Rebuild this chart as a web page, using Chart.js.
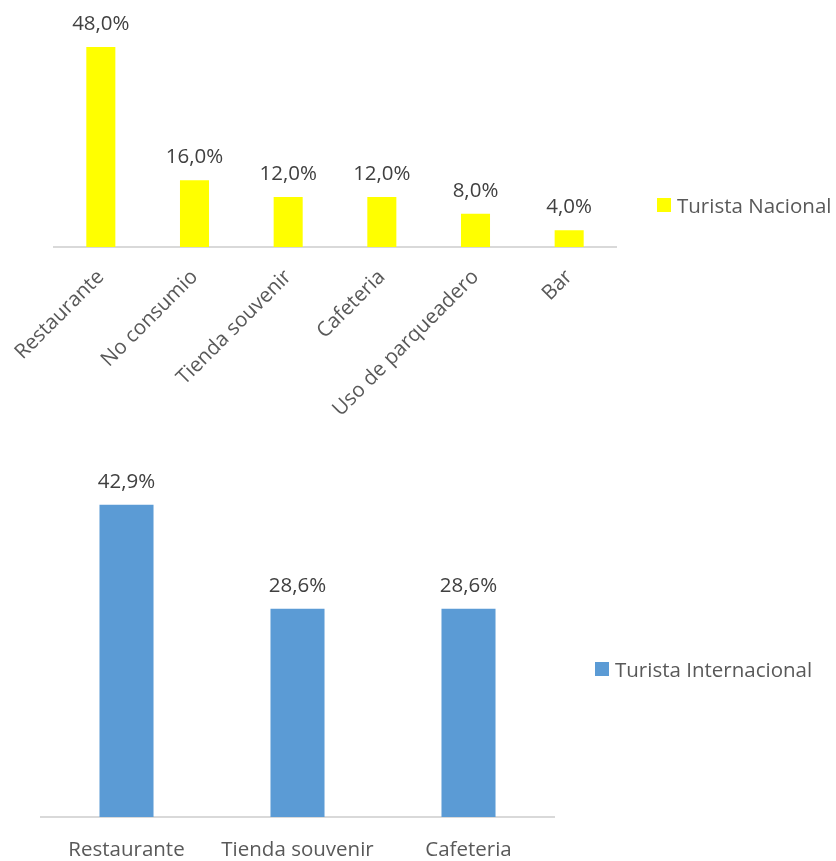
<!DOCTYPE html>
<html>
<head>
<meta charset="utf-8">
<script src="https://cdn.jsdelivr.net/npm/chart.js@4/dist/chart.umd.min.js"></script>
<style>
  html, body { margin: 0; padding: 0; background: #ffffff; }
  body { width: 836px; height: 861px; position: relative; overflow: hidden; font-family: "Open Sans", sans-serif; }
  .box { position: absolute; }
  .legend { position: absolute; display: flex; align-items: center; color: #595959; font-size: 20.5px; white-space: nowrap; }
  .legend span.sw { display: inline-block; width: 14px; height: 14px; margin-right: 6px; }
</style>
</head>
<body>
<div class="box" style="left:0;top:0;width:836px;height:430px;"><canvas id="nacional"></canvas></div>
<div class="box" style="left:0;top:430px;width:836px;height:431px;"><canvas id="internacional"></canvas></div>
<div class="legend" style="left:657px;top:191px;height:28px;"><span class="sw" style="background:#FFFF00"></span>Turista Nacional</div>
<div class="legend" style="left:595px;top:655px;height:28px;"><span class="sw" style="background:#5B9BD5"></span>Turista Internacional</div>
<script>
// Consumo del turista nacional
const nacionalCategorias = ['Restaurante', 'No consumio', 'Tienda souvenir', 'Cafeteria', 'Uso de parqueadero', 'Bar'];
const nacionalValores = [48.0, 16.0, 12.0, 12.0, 8.0, 4.0];

// Consumo del turista internacional
const internacionalCategorias = ['Restaurante', 'Tienda souvenir', 'Cafeteria'];
const internacionalValores = [42.9, 28.6, 28.6];

const FONT = '"Open Sans", sans-serif';

// Writes each bar's value (e.g. "48,0%") above it
const etiquetasValor = {
  id: 'etiquetasValor',
  afterDatasetsDraw(chart) {
    const ctx = chart.ctx;
    ctx.save();
    ctx.font = '20.5px ' + FONT;
    ctx.fillStyle = '#404040';
    ctx.textAlign = 'center';
    ctx.textBaseline = 'alphabetic';
    chart.data.datasets.forEach((ds, i) => {
      chart.getDatasetMeta(i).data.forEach((bar, j) => {
        const txt = ds.data[j].toFixed(1).replace('.', ',') + '%';
        ctx.fillText(txt, bar.x, bar.y - 17);
      });
    });
    ctx.restore();
  }
};

function crearGrafico(id, categorias, valores, color, opts) {
  return new Chart(document.getElementById(id), {
    type: 'bar',
    data: {
      labels: categorias,
      datasets: [{
        label: opts.serie,
        data: valores,
        backgroundColor: color,
        borderWidth: 0,
        categoryPercentage: 1,
        barPercentage: opts.barPct
      }]
    },
    options: {
      responsive: true,
      maintainAspectRatio: false,
      animation: false,
      layout: { padding: opts.padding },
      plugins: { legend: { display: false }, tooltip: { enabled: false } },
      scales: {
        x: {
          grid: { display: false },
          border: { display: true, color: '#d9d9d9', width: 2 },
          ticks: {
            color: '#595959',
            font: { family: FONT, size: 20.5 },
            minRotation: opts.rot,
            maxRotation: opts.rot,
            padding: opts.tickPad,
            autoSkip: false
          },
          afterFit(scale) { scale.height = opts.axisH; }
        },
        y: { display: false, min: 0, max: 50 }
      }
    },
    plugins: [etiquetasValor]
  });
}

crearGrafico('nacional', nacionalCategorias, nacionalValores, '#FFFF00', {
  serie: 'Turista Nacional', barPct: 0.31, rot: 45, tickPad: 10, axisH: 183,
  padding: { left: 54, right: 220, top: 38.7, bottom: 0 }
});

crearGrafico('internacional', internacionalCategorias, internacionalValores, '#5B9BD5', {
  serie: 'Turista Internacional', barPct: 0.316, rot: 0, tickPad: 13, axisH: 44,
  padding: { left: 41, right: 282, top: 23, bottom: 0 }
});
</script>
</body>
</html>
